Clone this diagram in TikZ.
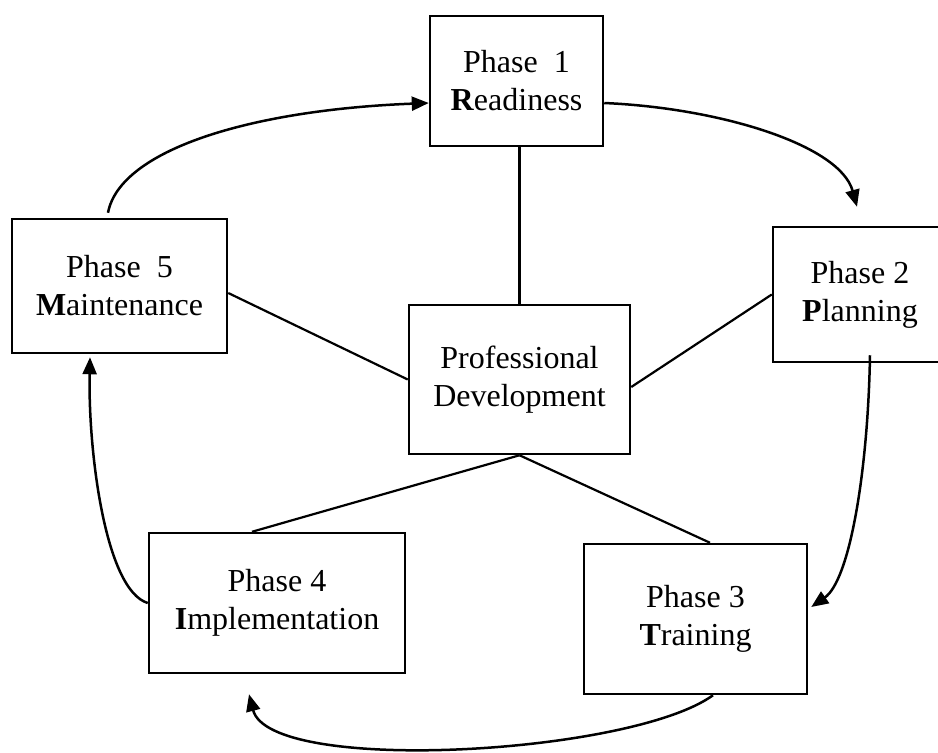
\documentclass[tikz,border=0pt]{standalone}
\usepackage{fontspec}
\setmainfont{Liberation Serif}
\usetikzlibrary{arrows.meta}

\begin{document}
\begin{tikzpicture}[x=1pt,y=-1pt,
  phasebox/.style={draw,line width=2.5pt,fill=white,inner sep=0pt,align=center,
    font=\fontsize{32}{38}\selectfont},
  spoke/.style={line width=2.2pt},
  cycle/.style={line width=2.5pt,-{Triangle[length=17pt,width=14pt]}}]
\useasboundingbox (0,0) rectangle (938,753);
\clip (0,0) rectangle (938,753);

% hub and the five phases
\node[phasebox,minimum width=221pt,minimum height=149pt] (pd) at (519.5,379.5)
  {Professional\\Development};
\node[phasebox,minimum width=173pt,minimum height=130pt] (p1) at (516.5,81)
  {Phase\ \ 1\\\textbf{R}eadiness};
\node[phasebox,minimum width=174pt,minimum height=135pt] (p2) at (860,294.5)
  {Phase 2\\\textbf{P}lanning};
\node[phasebox,minimum width=223pt,minimum height=150pt] (p3) at (695.5,619)
  {Phase 3\\\textbf{T}raining};
\node[phasebox,minimum width=256pt,minimum height=140pt] (p4) at (277,603)
  {Phase 4\\\textbf{I}mplementation};
\node[phasebox,minimum width=215pt,minimum height=134pt] (p5) at (119.5,286)
  {Phase\ \ 5\\\textbf{M}aintenance};

% spokes from the hub
\draw[spoke] (pd.north) -- (pd.north |- p1.south);
\draw[spoke] ([yshift=-7.5pt]pd.east) -- (p2.west);
\draw[spoke] (pd.south) -- ([xshift=14.5pt]p3.north);
\draw[spoke] (pd.south) -- ([xshift=-25pt]p4.north);
\draw[spoke] (pd.west) -- ([yshift=-7pt]p5.east);

% cycle arrows around the phases
\draw[cycle] ([xshift=-11.5pt,yshift=5pt]p5.north)
  .. controls (120,150) and (250,110) .. ([yshift=-22pt]p1.west);
\draw[cycle] ([yshift=-22pt]p1.east)
  .. controls (720,108) and (840,145) .. ([xshift=-3pt,yshift=19pt]p2.north);
\draw[cycle] ([xshift=10pt,yshift=8pt]p2.south)
  .. controls (868,470) and (850,580) .. ([xshift=3pt,yshift=12pt]p3.east);
\draw[cycle] ([xshift=17.5pt]p3.south)
  .. controls (630,755) and (270,775) .. ([xshift=-28pt,yshift=-20pt]p4.south);
\draw[cycle] (p4.west)
  .. controls (105,590) and (88,450) .. ([xshift=-29.5pt,yshift=-3pt]p5.south);
\end{tikzpicture}
\end{document}
